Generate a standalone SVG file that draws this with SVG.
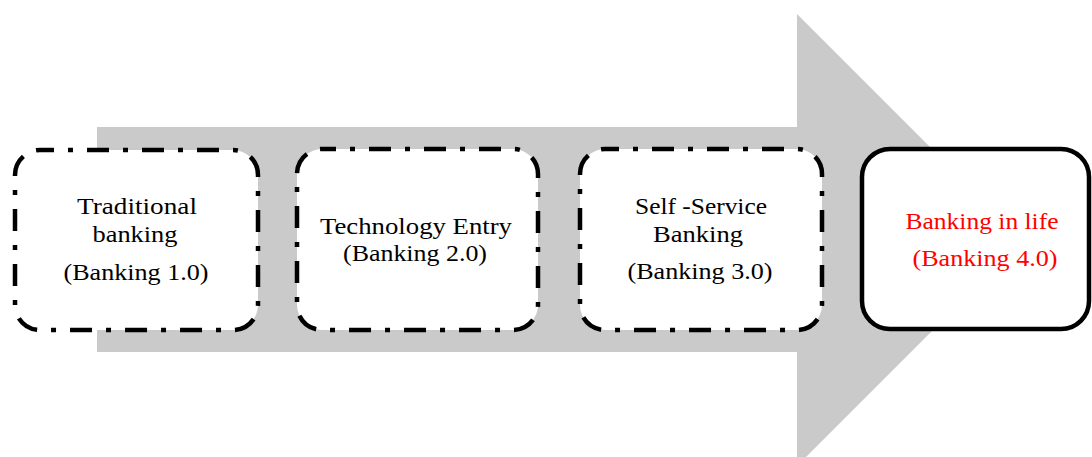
<svg xmlns="http://www.w3.org/2000/svg" width="1092" height="457" viewBox="0 0 1092 457">
<style>
.box{fill:#ffffff;stroke:#000000;stroke-width:4.5}
.dash{stroke-dasharray:22 14 5 14;stroke-dashoffset:8}
.solid{stroke-width:4.5}
.t{font-family:"Liberation Serif","Times New Roman",serif;font-size:24px;fill:#000000;text-anchor:middle}
.red{fill:#ff0000}
</style>
<rect width="1092" height="457" fill="#ffffff"/>
<g id="arrow">
<polygon points="97,127 797,127 797,14 1023,240 797,466 797,352 97,352" fill="#cacaca"/>
</g>
<g id="node1">
<rect class="box dash" x="15" y="150" width="243" height="180" rx="25"/>
<text class="t" x="137" y="214" textLength="120" lengthAdjust="spacingAndGlyphs">Traditional</text>
<text class="t" x="135" y="242" textLength="85" lengthAdjust="spacingAndGlyphs">banking</text>
<text class="t" x="136" y="280" textLength="145" lengthAdjust="spacingAndGlyphs">(Banking 1.0)</text>
</g>
<g id="node2">
<rect class="box dash" x="297" y="149" width="241" height="181" rx="25"/>
<text class="t" x="416" y="234" textLength="192" lengthAdjust="spacingAndGlyphs">Technology Entry</text>
<text class="t" x="415" y="261" textLength="144" lengthAdjust="spacingAndGlyphs">(Banking 2.0)</text>
</g>
<g id="node3">
<rect class="box dash" x="580" y="149" width="242" height="181" rx="25"/>
<text class="t" x="701" y="214" textLength="132" lengthAdjust="spacingAndGlyphs">Self -Service</text>
<text class="t" x="698" y="242" textLength="90" lengthAdjust="spacingAndGlyphs">Banking</text>
<text class="t" x="700" y="279" textLength="145" lengthAdjust="spacingAndGlyphs">(Banking 3.0)</text>
</g>
<g id="node4">
<rect class="box solid" x="862" y="149" width="227" height="180" rx="28"/>
<text class="t red" x="982" y="229" textLength="153" lengthAdjust="spacingAndGlyphs">Banking in life</text>
<text class="t red" x="985" y="266" textLength="145" lengthAdjust="spacingAndGlyphs">(Banking 4.0)</text>
</g>
<g id="connectors"></g>
</svg>
